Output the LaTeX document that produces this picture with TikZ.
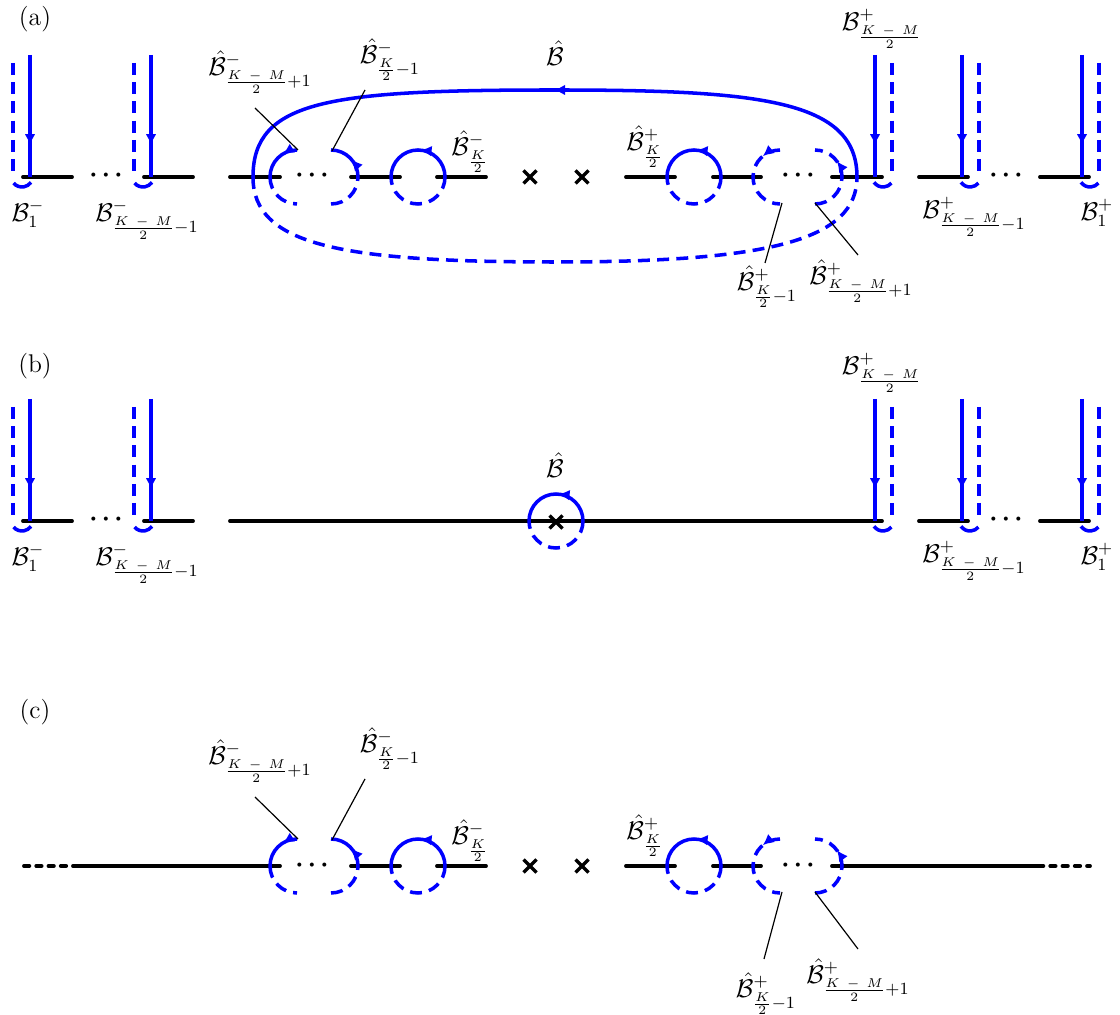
\documentclass[tikz,border=0pt]{standalone}
\usepackage{amsmath}
\usetikzlibrary{arrows.meta,decorations.markings}
\newcommand{\Bc}{\mathcal{B}}
\newcommand{\Bh}{\hat{\mathcal{B}}}
\newcommand{\KMfr}{\frac{K\mkern8mu{-}\mkern8mu M}{2}}
\newcommand{\Kfr}{\frac{K}{2}}
\newcommand{\bdots}{{\boldsymbol{\cdot}}\mkern3mu{\boldsymbol{\cdot}}\mkern3mu{\boldsymbol{\cdot}}}
\tikzset{
  axisline/.style={line width=1.8pt, line cap=round},
  bsolid/.style={blue, line width=1.65pt},
  bdash/.style={blue, line width=1.65pt, dash pattern=on 5.6pt off 3.4pt},
  dotline/.style={line width=1.8pt, line cap=round, dash pattern=on 2.5pt off 3.25pt},
  leader/.style={line width=0.56pt},
  crossline/.style={line width=1.6pt},
  midarrow/.style={postaction={decorate,decoration={markings,
     mark=at position #1 with {\arrow{Latex[length=5.2pt,width=5pt]}}}}},
  lbl/.style={inner sep=0pt, font=\large},
  dotsnode/.style={inner sep=0pt, anchor=base, font=\large}
}
% left leg: solid line at x=#1, dashed at #1-17, axis at y=#2
\newcommand{\leftleg}[2]{%
  \draw[bsolid, midarrow=0.74] (#1,#2-122) -- (#1,#2);
  \draw[bdash] (#1-17,#2-114) -- (#1-17,#2-4);
  \draw[bsolid] (#1-8,#2-1) ++(140:11) arc[start angle=140,end angle=35,radius=11];
}
\newcommand{\rightleg}[2]{%
  \draw[bsolid, midarrow=0.74] (#1,#2-122) -- (#1,#2);
  \draw[bdash] (#1+17,#2-114) -- (#1+17,#2-4);
  \draw[bsolid] (#1+8,#2-1) ++(145:11) arc[start angle=145,end angle=40,radius=11];
}
\newcommand{\crossat}[2]{%
  \draw[crossline] (#1-6.5,#2-6.5) -- (#1+6.5,#2+6.5) (#1-6.5,#2+6.5) -- (#1+6.5,#2-6.5);
}
% middle shapes for panels (a) and (c); #1 = axis y, #2 = name prefix
\newcommand{\midshapes}[2]{%
  \draw[axisline] (351,#1) -- (400,#1);
  \draw[axisline] (437,#1) -- (486,#1);
  \draw[axisline] (626,#1) -- (675,#1);
  \draw[axisline] (713,#1) -- (761,#1);
  \node[dotsnode] (#2dotsL) at (312,#1+5) {$\bdots$};
  \node[dotsnode] (#2dotsR) at (798,#1+5) {$\bdots$};
  % left oval
  \draw[bsolid, midarrow=0.35] (297,#1-27) arc[start angle=-90,end angle=-180,radius=27];
  \draw[bdash] (270,#1) arc[start angle=180,end angle=90,radius=27];
  \draw[bdash] (331,#1+27) arc[start angle=90,end angle=0,radius=27];
  \draw[bsolid, midarrow=0.45] (358,#1) arc[start angle=0,end angle=-90,radius=27];
  % circle K/2 minus
  \draw[bsolid, midarrow=0.47] (445,#1) arc[start angle=0,end angle=-180,radius=27];
  \draw[bdash] (445,#1) arc[start angle=0,end angle=180,radius=27];
  % crosses
  \crossat{530}{#1}
  \crossat{582}{#1}
  % circle K/2 plus
  \draw[bsolid, midarrow=0.47] (721,#1) arc[start angle=0,end angle=-180,radius=27];
  \draw[bdash] (721,#1) arc[start angle=0,end angle=180,radius=27];
  % right oval
  \draw[bdash, midarrow=0.22] (780,#1-27) arc[start angle=-90,end angle=-270,radius=27];
  \draw[bdash, midarrow=0.7] (815,#1+27) arc[start angle=90,end angle=-90,radius=27];
}
\begin{document}
\begin{tikzpicture}[x=0.46875pt,y=-0.46875pt]
\useasboundingbox (0,0) rectangle (1120,1015);

%%%%%%%%%%%%%%%% panel (a)
\node[lbl] (la) at (35,19) {(a)};
% axis
\draw[axisline] (23,177) -- (72,177);
\draw[axisline] (144,177) -- (193,177);
\draw[axisline] (230,177) -- (280,177);
\draw[axisline] (832,177) -- (882,177);
\draw[axisline] (919,177) -- (968,177);
\draw[axisline] (1040,177) -- (1089,177);
\node[dotsnode] (adots1) at (106,182) {$\bdots$};
\node[dotsnode] (adots4) at (1006,182) {$\bdots$};
\midshapes{177}{a}
% legs
\leftleg{30}{177}
\leftleg{151}{177}
\rightleg{875}{177}
\rightleg{962}{177}
\rightleg{1082}{177}
% big loop
\draw[bsolid, midarrow=0.5] (857,177) .. controls (857,100) and (760,90) .. (555,90)
   .. controls (330,90) and (253,100) .. (253,177);
\draw[bdash] (253,177) .. controls (253,245) and (340,262) .. (555,262)
   .. controls (770,262) and (857,240) .. (857,177);
% labels
\node[lbl] (aB) at (555,53) {$\Bh$};
\node[lbl] (aBp0) at (882,29) {$\Bc^+_{\KMfr}$};
\node[lbl] (aBm1) at (28,214) {$\Bc^-_1$};
\node[lbl] (aBm2) at (147,220) {$\Bc^-_{\KMfr-1}$};
\node[lbl] (aBp2) at (974,217) {$\Bc^+_{\KMfr-1}$};
\node[lbl] (aBp1) at (1097,213) {$\Bc^+_1$};
\node[lbl] (aHm1) at (260,72) {$\Bh^-_{\KMfr+1}$};
\node[lbl] (aHm2) at (390,60) {$\Bh^-_{\Kfr-1}$};
\node[lbl] (aHm3) at (470,152) {$\Bh^-_{\Kfr}$};
\node[lbl] (aHp3) at (645,147) {$\Bh^+_{\Kfr}$};
\node[lbl] (aHp2) at (767,287) {$\Bh^+_{\Kfr-1}$};
\node[lbl] (aHp1) at (861,281) {$\Bh^+_{\KMfr+1}$};
% leader lines
\coordinate (aL1a) at (255,108); \coordinate (aL1b) at (298,150);
\coordinate (aL2a) at (365,90);  \coordinate (aL2b) at (332,151);
\coordinate (aL3a) at (765,263); \coordinate (aL3b) at (782,203);
\coordinate (aL4a) at (858,255); \coordinate (aL4b) at (815,203);
\draw[leader] (aL1a) -- (aL1b);
\draw[leader] (aL2a) -- (aL2b);
\draw[leader] (aL3a) -- (aL3b);
\draw[leader] (aL4a) -- (aL4b);

%%%%%%%%%%%%%%%% panel (b)
\node[lbl] (lb) at (35,366) {(b)};
\draw[axisline] (23,521) -- (72,521);
\draw[axisline] (144,521) -- (193,521);
\draw[axisline] (230,521) -- (882,521);
\draw[axisline] (919,521) -- (968,521);
\draw[axisline] (1040,521) -- (1089,521);
\node[dotsnode] (bdots1) at (106,526) {$\bdots$};
\node[dotsnode] (bdots2) at (1006,526) {$\bdots$};
\leftleg{30}{521}
\leftleg{151}{521}
\rightleg{875}{521}
\rightleg{962}{521}
\rightleg{1082}{521}
\draw[bsolid, midarrow=0.47] (583,521) arc[start angle=0,end angle=-180,radius=27];
\draw[bdash] (583,521) arc[start angle=0,end angle=180,radius=27];
\crossat{556}{522}
\node[lbl] (bB) at (555,465) {$\Bh$};
\node[lbl] (bBp0) at (882,373) {$\Bc^+_{\KMfr}$};
\node[lbl] (bBm1) at (28,558) {$\Bc^-_1$};
\node[lbl] (bBm2) at (147,564) {$\Bc^-_{\KMfr-1}$};
\node[lbl] (bBp2) at (974,561) {$\Bc^+_{\KMfr-1}$};
\node[lbl] (bBp1) at (1097,557) {$\Bc^+_1$};

%%%%%%%%%%%%%%%% panel (c)
\node[lbl] (lc) at (35,712) {(c)};
\draw[dotline] (24,866) -- (73,866);
\draw[axisline] (73,866) -- (280,866);
\draw[axisline] (832,866) -- (1038,866);
\draw[dotline] (1038,866) -- (1090,866);
\midshapes{866}{c}
\node[lbl] (cHm1) at (260,761) {$\Bh^-_{\KMfr+1}$};
\node[lbl] (cHm2) at (390,749) {$\Bh^-_{\Kfr-1}$};
\node[lbl] (cHm3) at (470,841) {$\Bh^-_{\Kfr}$};
\node[lbl] (cHp3) at (645,836) {$\Bh^+_{\Kfr}$};
\node[lbl] (cHp2) at (766,994) {$\Bh^+_{\Kfr-1}$};
\node[lbl] (cHp1) at (858,980) {$\Bh^+_{\KMfr+1}$};
\coordinate (cL1a) at (255,797); \coordinate (cL1b) at (298,839);
\coordinate (cL2a) at (365,779); \coordinate (cL2b) at (332,840);
\coordinate (cL3a) at (764,959); \coordinate (cL3b) at (782,892);
\coordinate (cL4a) at (858,949); \coordinate (cL4b) at (815,892);
\draw[leader] (cL1a) -- (cL1b);
\draw[leader] (cL2a) -- (cL2b);
\draw[leader] (cL3a) -- (cL3b);
\draw[leader] (cL4a) -- (cL4b);
\end{tikzpicture}
\end{document}
